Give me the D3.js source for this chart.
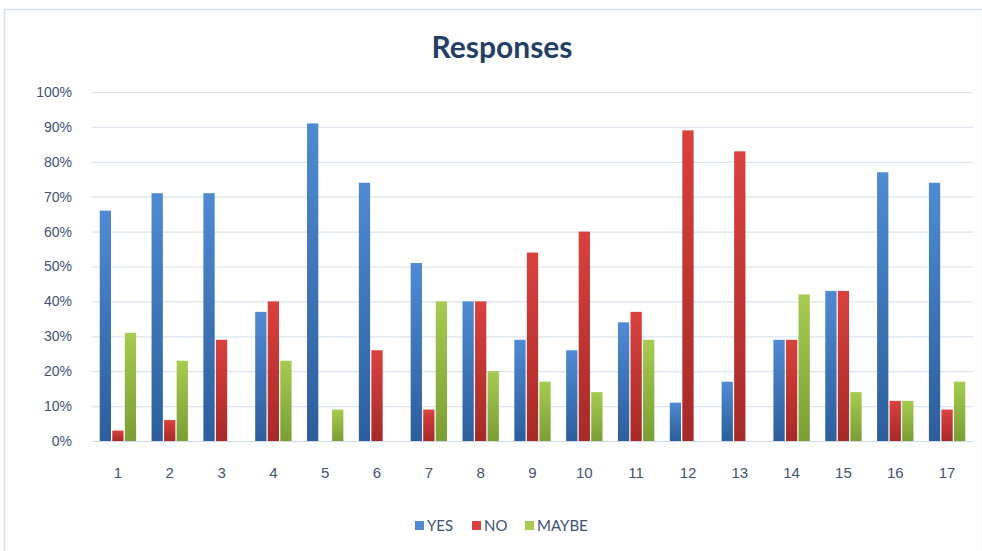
<!DOCTYPE html>
<html><head><meta charset="utf-8">
<script src="https://cdn.jsdelivr.net/npm/d3@7"></script>
<style>body{margin:0;background:#fff;}svg{display:block;font-family:Lato,"Open Sans",sans-serif;}</style>
</head><body><svg id="c" width="982" height="551"></svg>
<script>
const categories = ["1","2","3","4","5","6","7","8","9","10","11","12","13","14","15","16","17"];
const seriesNames = ["YES","NO","MAYBE"];
const yesValues = [66,71,71,37,91,74,51,40,29,26,34,11,17,29,43,77,74];
const noValues = [3,6,29,40,0,26,9,40,54,60,37,89,83,29,43,11.5,9];
const maybeValues = [31,23,0,23,9,0,40,20,17,14,29,0,0,42,14,11.5,17];
const yTicks = [0,10,20,30,40,50,60,70,80,90,100];
const colors = {YES:["#4f8ad2","#2c5e9c"], NO:["#d9413e","#a62a28"], MAYBE:["#a6cb4f","#7b9e35"]};

const svg = d3.select("#c");
const W = 982, H = 551;
const m = {left:92, right:9, top:92, bottom:110};
const iw = W - m.left - m.right, ih = H - m.top - m.bottom;

// frame
svg.append("rect").attr("x",4.5).attr("y",9.5).attr("width",W-4).attr("height",H).attr("fill","#fff").attr("stroke","#d6e0ec").attr("stroke-width",1.5);

const defs = svg.append("defs");
seriesNames.forEach(s=>{
  const g = defs.append("linearGradient").attr("id","g"+s).attr("x1",0).attr("y1",0).attr("x2",0).attr("y2",1);
  g.append("stop").attr("offset","0%").attr("stop-color",colors[s][0]);
  g.append("stop").attr("offset","100%").attr("stop-color",colors[s][1]);
});

svg.append("text").attr("x",502).attr("y",58).attr("text-anchor","middle")
  .attr("font-size",30).attr("font-weight","bold").attr("fill","#243f66").text("Responses");

const g = svg.append("g").attr("transform",`translate(${m.left},${m.top})`);
const x0 = d3.scaleBand().domain(categories).range([0,iw]).paddingInner(0.25).paddingOuter(0.125);
const x1 = d3.scaleBand().domain(seriesNames).range([0,x0.bandwidth()]).padding(0.1);
const y = d3.scaleLinear().domain([0,100]).range([ih,0]);

const yAxis = d3.axisLeft(y).tickValues(yTicks).tickSize(-iw).tickFormat(d=>d+"%");
const ya = g.append("g").call(yAxis);
ya.select(".domain").remove();
ya.selectAll(".tick line").attr("stroke","#dbe3ee").attr("stroke-width",1.2);
ya.selectAll(".tick text").attr("x",-20).attr("font-size",14).attr("fill","#3f5274");

const xAxis = d3.axisBottom(x0).tickSize(0).tickPadding(26);
const xa = g.append("g").attr("transform",`translate(0,${ih})`).call(xAxis);
xa.select(".domain").attr("stroke","#d0d9e6").attr("stroke-width",1.2);
xa.selectAll(".tick text").attr("font-size",15).attr("fill","#3f5274");

const data = seriesNames.map((s,i)=>({name:s, values:[yesValues,noValues,maybeValues][i]}));
data.forEach(sr=>{
  g.append("g").selectAll("rect").data(sr.values).join("rect")
    .attr("x",(d,i)=>x0(categories[i])+x1(sr.name))
    .attr("width",x1.bandwidth())
    .attr("y",d=>y(d)).attr("height",d=>ih-y(d))
    .attr("fill","url(#g"+sr.name+")");
});

// legend
const leg = svg.append("g").attr("transform","translate(415,531)");
const legX = [0,57,110];
seriesNames.forEach((s,i)=>{
  const it = leg.append("g").attr("transform",`translate(${legX[i]},0)`);
  it.append("rect").attr("x",0).attr("y",-10).attr("width",9).attr("height",9).attr("fill",colors[s][0]);
  it.append("text").attr("x",12).attr("y",0).attr("font-size",15).attr("fill","#3f5274").text(s);
});
</script></body></html>
